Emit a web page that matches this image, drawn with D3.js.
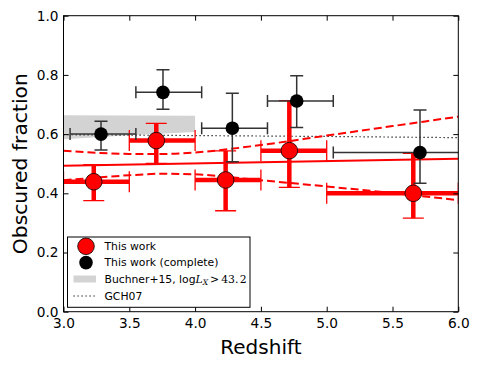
<!DOCTYPE html>
<html><head><meta charset="utf-8">
<script src="https://cdn.jsdelivr.net/npm/d3@7"></script>
<style>
body{margin:0;background:#fff;}
svg{display:block;font-family:"DejaVu Sans",sans-serif;}
</style></head>
<body><svg id="c" width="479" height="368"></svg>
<script>
// ---- data ----
const xTicks = [3.0, 3.5, 4.0, 4.5, 5.0, 5.5, 6.0];
const yTicks = [0.0, 0.2, 0.4, 0.6, 0.8, 1.0];

// This work (red)
const redZ    = [3.23, 3.705, 4.232, 4.716, 5.658];
const redBinLo= [3.0, 3.5, 4.0, 4.5, 5.0];
const redBinHi= [3.5, 4.0, 4.5, 5.0, 6.0];
const redF    = [0.439, 0.578, 0.445, 0.544, 0.400];
const redFLo  = [0.375, 0.501, 0.341, 0.420, 0.316];
const redFHi  = [0.497, 0.636, 0.543, 0.713, 0.535];

// This work (complete) (black)
const blkZ    = [3.285, 3.756, 4.283, 4.772, 5.709];
const blkBinLo= [3.05, 3.55, 4.05, 4.55, 5.05];
const blkBinHi= [3.55, 4.05, 4.55, 5.05, 6.05];
const blkF    = [0.600, 0.741, 0.620, 0.712, 0.538];
const blkFLo  = [0.546, 0.684, 0.507, 0.622, 0.434];
const blkFHi  = [0.643, 0.817, 0.738, 0.797, 0.681];

// linear fit and its confidence band
const fitZ   = [3.0, 6.0];
const fitF   = [0.493, 0.517];
const bandZ  = [3.0, 3.25, 3.5, 3.75, 4.0, 4.5, 5.0, 5.5, 6.0];
const fitUp  = [0.544, 0.537, 0.533, 0.533, 0.538, 0.563, 0.595, 0.627, 0.659];
const fitLow = [0.444, 0.453, 0.461, 0.466, 0.464, 0.444, 0.423, 0.401, 0.377];

// Buchner+15
const bucZ  = [3.0, 3.5, 4.0];
const bucLo = [0.583, 0.596, 0.607];
const bucHi = [0.664, 0.663, 0.662];

// GCH07
const gchZ = [3.0, 4.0, 5.0, 6.0];
const gchF = [0.598, 0.595, 0.592, 0.588];

// ---- layout ----
const L = 63.5, R = 458.3, T = 15.7, B = 311.7;
const svg = d3.select("#c");
const x = d3.scaleLinear().domain([3, 6]).range([L, R]);
const y = d3.scaleLinear().domain([0, 1]).range([B, T]);

svg.append("defs").append("clipPath").attr("id", "clip")
  .append("rect").attr("x", L).attr("y", T).attr("width", R - L).attr("height", B - T);
const g = svg.append("g").attr("clip-path", "url(#clip)");

// Buchner band
g.append("path")
  .datum(bucZ.map((z, i) => [z, bucLo[i], bucHi[i]]))
  .attr("fill", "#d3d3d3")
  .attr("d", d3.area().x(d => x(d[0])).y0(d => y(d[1])).y1(d => y(d[2])));

// GCH07 dotted
g.append("path")
  .datum(gchZ.map((z, i) => [z, gchF[i]]))
  .attr("fill", "none").attr("stroke", "#000").attr("stroke-width", 1.2)
  .attr("stroke-dasharray", "1.2,2.8")
  .attr("d", d3.line().x(d => x(d[0])).y(d => y(d[1])));

// fit line
g.append("path")
  .datum(fitZ.map((z, i) => [z, fitF[i]]))
  .attr("fill", "none").attr("stroke", "red").attr("stroke-width", 2)
  .attr("d", d3.line().x(d => x(d[0])).y(d => y(d[1])));
[fitUp, fitLow].forEach(arr => {
  g.append("path")
    .datum(bandZ.map((z, i) => [z, arr[i]]))
    .attr("fill", "none").attr("stroke", "red").attr("stroke-width", 2)
    .attr("stroke-dasharray", "8,4")
    .attr("d", d3.line().curve(d3.curveMonotoneX).x(d => x(d[0])).y(d => y(d[1])));
});

function errbars(zs, blo, bhi, f, flo, fhi, color, lw, capw, caplw, cap) {
  zs.forEach((z, i) => {
    const cx = x(z), cy = y(f[i]);
    g.append("line").attr("x1", x(blo[i])).attr("x2", x(bhi[i])).attr("y1", cy).attr("y2", cy)
      .attr("stroke", color).attr("stroke-width", lw);
    g.append("line").attr("x1", cx).attr("x2", cx).attr("y1", y(flo[i])).attr("y2", y(fhi[i]))
      .attr("stroke", color).attr("stroke-width", lw);
    [x(blo[i]), x(bhi[i])].forEach(px => {
      g.append("line").attr("x1", px).attr("x2", px).attr("y1", cy - cap).attr("y2", cy + cap)
        .attr("stroke", color).attr("stroke-width", caplw);
    });
    [y(flo[i]), y(fhi[i])].forEach(py => {
      g.append("line").attr("x1", cx - capw).attr("x2", cx + capw).attr("y1", py).attr("y2", py)
        .attr("stroke", color).attr("stroke-width", caplw);
    });
  });
}
errbars(redZ, redBinLo, redBinHi, redF, redFLo, redFHi, "red", 4.5, 10.5, 1.3, 10.5);
redZ.forEach((z, i) => {
  g.append("circle").attr("cx", x(z)).attr("cy", y(redF[i])).attr("r", 8.3)
    .attr("fill", "red").attr("stroke", "#000").attr("stroke-width", 0.8);
});
errbars(blkZ, blkBinLo, blkBinHi, blkF, blkFLo, blkFHi, "#333", 1.5, 6.5, 1.5, 6);
blkZ.forEach((z, i) => {
  g.append("circle").attr("cx", x(z)).attr("cy", y(blkF[i])).attr("r", 6.8)
    .attr("fill", "#000");
});

// ---- axes ----
const fmt = d3.format(".1f");
const ax = svg.append("g").attr("transform", `translate(0,${B})`)
  .call(d3.axisBottom(x).tickValues(xTicks).tickFormat(fmt).tickSize(-5).tickPadding(7));
const ay = svg.append("g").attr("transform", `translate(${L},0)`)
  .call(d3.axisLeft(y).tickValues(yTicks).tickFormat(fmt).tickSize(-5).tickPadding(5));
const at = svg.append("g").attr("transform", `translate(0,${T})`)
  .call(d3.axisTop(x).tickValues(xTicks).tickFormat("").tickSize(-5));
const ar = svg.append("g").attr("transform", `translate(${R},0)`)
  .call(d3.axisRight(y).tickValues(yTicks).tickFormat("").tickSize(-5));
[ax, ay, at, ar].forEach(a => {
  a.select(".domain").remove();
  a.selectAll("line").attr("stroke", "#000").attr("stroke-width", 1);
  a.selectAll("text").attr("font-family", "DejaVu Sans").attr("font-size", 13.7).attr("fill", "#000");
});
svg.append("rect").attr("x", L).attr("y", T).attr("width", R - L).attr("height", B - T)
  .attr("fill", "none").attr("stroke", "#000").attr("stroke-width", 1);

svg.append("text").attr("x", (L + R) / 2).attr("y", 354).attr("text-anchor", "middle")
  .attr("font-size", 20).text("Redshift");
svg.append("text").attr("transform", `translate(26.5,${(T + B) / 2}) rotate(-90)`)
  .attr("text-anchor", "middle").attr("font-size", 20.3).text("Obscured fraction");

// ---- legend ----
const lg = svg.append("g");
lg.append("rect").attr("x", 67.5).attr("y", 237).attr("width", 182.5).attr("height", 70.3)
  .attr("fill", "#fff").attr("stroke", "#000").attr("stroke-width", 1);
const rows = [246.3, 262.6, 279.0, 296.0];
const fs = 10.8, tx = 104.5;
lg.append("circle").attr("cx", 86).attr("cy", rows[0]).attr("r", 8.3)
  .attr("fill", "red").attr("stroke", "#000").attr("stroke-width", 0.8);
lg.append("circle").attr("cx", 86).attr("cy", rows[1]).attr("r", 6.8).attr("fill", "#000");
lg.append("rect").attr("x", 73.5).attr("y", rows[2] - 3.5).attr("width", 22.5).attr("height", 7)
  .attr("fill", "#d3d3d3");
lg.append("line").attr("x1", 73.5).attr("x2", 96).attr("y1", rows[3]).attr("y2", rows[3])
  .attr("stroke", "#000").attr("stroke-width", 1.2).attr("stroke-dasharray", "1.2,2.8");
const labels = ["This work", "This work (complete)"];
labels.forEach((t, i) => {
  lg.append("text").attr("x", tx).attr("y", rows[i]).attr("dy", "0.36em")
    .attr("font-size", fs).text(t);
});
const t3 = lg.append("text").attr("x", tx).attr("y", rows[2]).attr("dy", "0.36em").attr("font-size", fs);
t3.append("tspan").text("Buchner+15, log");
t3.append("tspan").attr("font-family", "DejaVu Serif").attr("font-style", "italic").text("L");
t3.append("tspan").attr("font-family", "DejaVu Serif").attr("font-style", "italic")
  .attr("font-size", fs * 0.7).attr("dy", "0.25em").text("X");
t3.append("tspan").attr("font-family", "DejaVu Serif").attr("dy", "-0.18em").attr("dx", 2).text(">");
t3.append("tspan").attr("font-family", "DejaVu Serif").attr("dx", 2).text("43.");
t3.append("tspan").attr("font-family", "DejaVu Serif").attr("dx", 1.5).text("2");
lg.append("text").attr("x", tx).attr("y", rows[3]).attr("dy", "0.36em")
  .attr("font-size", fs).text("GCH07");
</script></body></html>
